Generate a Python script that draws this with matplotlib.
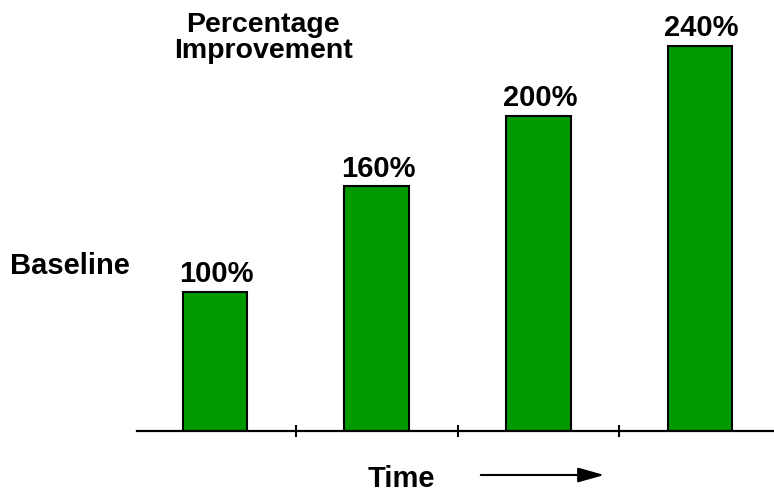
import matplotlib
matplotlib.use('Agg')
import matplotlib.pyplot as plt

# percentage improvement over baseline for each period
periods = [0, 1, 2, 3]
values = [100, 160, 200, 240]
labels = ['100%', '160%', '200%', '240%']
tick_pos = [0.5, 1.5, 2.5]

plt.rcParams['font.family'] = ['Liberation Sans', 'DejaVu Sans']
plt.rcParams['font.weight'] = 'bold'

W, H = 774, 492
fig = plt.figure(figsize=(W / 100, H / 100), dpi=100)
ax = fig.add_axes([137 / W, 61 / H, 1 - 137 / W, 431 / H])

ax.bar(periods, values, width=0.4, color='#009900', edgecolor='black', linewidth=1.5, zorder=2)
for x, v, lab in zip(periods, values, labels):
    ax.annotate(lab, (x, v), xytext=(1, 7), textcoords='offset points',
                ha='center', va='baseline', fontsize=21, fontweight='bold')

ax.set_xlim(-0.482, 3.457)
ax.set_ylim(21, 266)

for s in ['left', 'right', 'top']:
    ax.spines[s].set_visible(False)
ax.spines['bottom'].set_linewidth(1.6)
ax.spines['bottom'].set_zorder(3)
ax.set_yticks([])
ax.set_xticks(tick_pos)
ax.set_xticklabels([])
ax.tick_params(axis='x', direction='inout', length=8, width=1.5)

fig.text(263 / W, 1 - 38 / H, 'Percentage\nImprovement', ha='center', va='center',
         fontsize=20.5, fontweight='bold', linespacing=1.05)
fig.text(70 / W, 1 - 266 / H, 'Baseline', ha='center', va='center', fontsize=21, fontweight='bold')
fig.text(401 / W, 1 - 479 / H, 'Time', ha='center', va='center', fontsize=21, fontweight='bold')
fig.add_artist(matplotlib.patches.FancyArrowPatch(
    (478 / W, 1 - 475 / H), (607 / W, 1 - 475 / H), transform=fig.transFigure,
    arrowstyle='-|>,head_length=16,head_width=4.5', mutation_scale=1, linewidth=1.5,
    color='black'))

fig.savefig('out.png', dpi=100)
